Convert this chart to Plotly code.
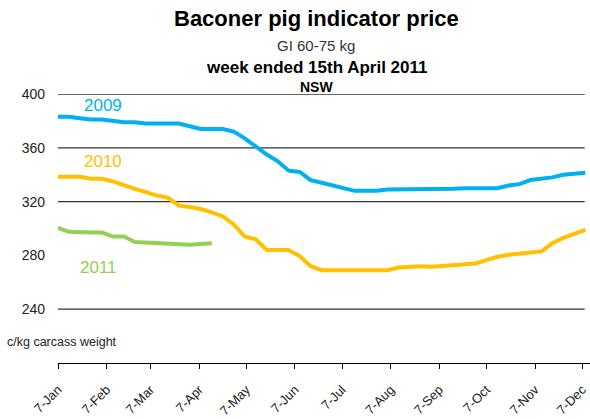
import pandas as pd
import plotly.graph_objects as go

# ---- data ----
weeks_full = pd.date_range("2010-01-07", periods=49, freq="7D")
weeks_2011 = pd.date_range("2010-01-07", periods=15, freq="7D")

price_2009 = [383, 383, 382, 381, 381, 380, 379, 379, 378, 378, 378, 378, 376, 374, 374, 374,
              372, 367, 361, 355, 350, 343, 342, 336, 334, 332, 330, 328, 328, 328, 329, 329,
              329, 329, 329, 329.5, 329.5, 330, 330, 330, 330, 332, 333, 336, 337, 338, 340, 341, 341.5]
price_2010 = [338.5, 338.5, 338.5, 337, 337, 335, 332, 329.5, 327, 324.5, 323, 317, 316, 314.5, 312,
              309, 303, 294, 292, 284, 284, 284, 279.5, 272, 269, 269, 269, 269, 269, 269, 269, 271,
              271.5, 272, 271.5, 272, 272.5, 273.5, 274, 276.5, 279, 280.5, 281.5, 282, 283, 289, 293, 296, 299]
price_2011 = [300.5, 297.5, 297.3, 297.3, 297, 294, 294, 290, 289.5, 289.5, 289, 288, 288, 288.5, 289]

tick_dates = ["2010-%02d-07" % m for m in range(1, 13)]
tick_text = ["7-Jan", "7-Feb", "7-Mar", "7-Apr", "7-May", "7-Jun",
             "7-Jul", "7-Aug", "7-Sep", "7-Oct", "7-Nov", "7-Dec"]
y_ticks = [240, 280, 320, 360, 400]
grid_values = [240, 320, 360, 400]

series = [("2009", weeks_full, price_2009, "#00B0F0"),
          ("2010", weeks_full, price_2010, "#FFC000"),
          ("2011", weeks_2011, price_2011, "#92D050")]

FONT = "Liberation Sans, Arial, sans-serif"

fig = go.Figure()
for name, x, y, color in series:
    fig.add_trace(go.Scatter(x=x, y=y, mode="lines", name=name,
                             line=dict(color=color, width=4), showlegend=False))

for g in grid_values:
    fig.add_shape(type="line", xref="paper", x0=0, x1=0.99, yref="y", y0=g, y1=g,
                  line=dict(color="#333333", width=1.3), layer="below")

# series labels
label_pos = {"2009": (0.0855, 391.5), "2010": (0.0855, 350), "2011": (0.076, 271)}
for name, x, y, color in series:
    lx, ly = label_pos[name]
    fig.add_annotation(xref="paper", yref="y", x=lx, y=ly, text=name, showarrow=False,
                       xanchor="center", yanchor="middle",
                       font=dict(family=FONT, size=17, color=color))

titles = [
    ("<b>Baconer pig indicator price</b>", 22, 1.2825, "#000000"),
    ("GI 60-75 kg", 15, 1.182, "#333333"),
    ("<b>week ended 15th April 2011</b>", 17, 1.100, "#000000"),
    ("<b>NSW</b>", 14, 1.026, "#000000"),
]
for t, s, yy, c in titles:
    fig.add_annotation(xref="paper", yref="paper", x=0.485, y=yy, text=t, showarrow=False,
                       font=dict(family=FONT, size=s, color=c), xanchor="center", yanchor="middle")

fig.add_annotation(xref="paper", yref="paper", x=-0.0996, y=0.078, text="c/kg carcass weight",
                   showarrow=False, xanchor="left", yanchor="middle",
                   font=dict(family=FONT, size=12.5, color="#222222"))

fig.update_layout(
    width=590, height=419,
    margin=dict(l=58, r=0, t=94, b=56),
    paper_bgcolor="white", plot_bgcolor="white",
    font=dict(family=FONT, color="#222222"),
    xaxis=dict(type="date", range=["2010-01-07", "2010-12-12"], tickvals=tick_dates,
               ticktext=tick_text, tickangle=-45, showgrid=False, zeroline=False,
               showline=True, linecolor="#000000", linewidth=1, ticks="outside",
               ticklen=5, tickcolor="#000000", ticklabelstandoff=8,
               tickfont=dict(size=13, color="#222222")),
    yaxis=dict(range=[200, 400], tickvals=y_ticks, showgrid=False, zeroline=False,
               showline=False, ticks="", ticklabelstandoff=12,
               tickfont=dict(size=14, color="#222222")),
)

fig.write_html("out.html", config={"displayModeBar": False},
               post_script="document.body.style.margin='0';document.body.style.overflow='hidden';")
